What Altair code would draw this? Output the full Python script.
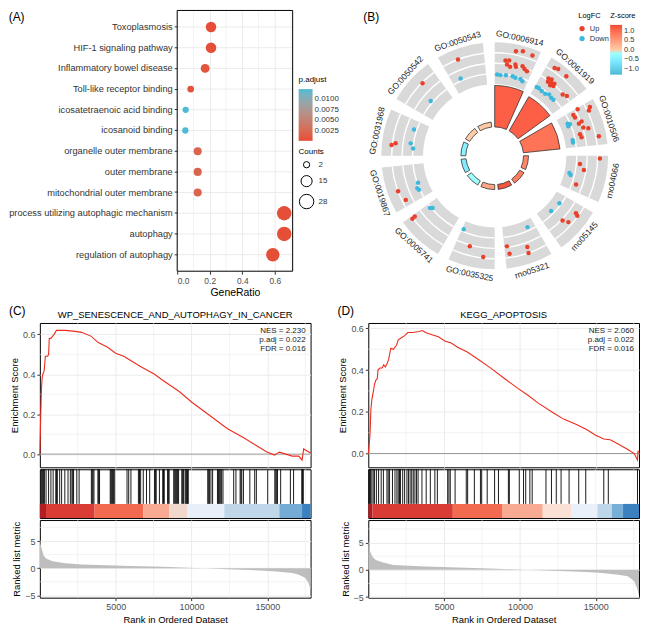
import math
import altair as alt
import pandas as pd

FONT = "Liberation Sans"
RED = "#E64B35"
BLUE = "#4DBBD5"

# ------------------------------------------------------------------ (A) data
a_terms = ["Toxoplasmosis", "HIF-1 signaling pathway", "Inflammatory bowel disease",
           "Toll-like receptor binding", "icosatetraenoic acid binding", "icosanoid binding",
           "organelle outer membrane", "outer membrane", "mitochondrial outer membrane",
           "process utilizing autophagic mechanism", "autophagy", "regulation of autophagy"]
a_ratio = [0.208, 0.208, 0.172, 0.083, 0.052, 0.050, 0.126, 0.126, 0.126, 0.658, 0.658, 0.588]
a_count = [13, 13, 8, 3, 2, 2, 6, 6, 6, 28, 28, 24]
a_padj = [0.0003, 0.0004, 0.0009, 0.0008, 0.0123, 0.0123, 0.0021, 0.0022, 0.0022, 0.0004, 0.0004, 0.0005]
a_minor_grid = [0.1, 0.3, 0.5, 0.7]

# ------------------------------------------------------------------ (B) data
b_terms = ["GO:0006914", "GO:0061919", "GO:0010506", "rno04066", "rno05145", "rno05321",
           "GO:0035325", "GO:0005741", "GO:0019867", "GO:0031968", "GO:0050542", "GO:0050543"]
b_bar = [10.4, 9.9, 9.25, 1.25, 1.25, 1.25, 1.25, 1.25, 1.25, 1.25, 1.25, 1.25]
b_z = [1.1, 1.1, 0.9, 0.7, 0.78, 1.2, 0.39, -0.13, -0.54, -0.43, 0.0, 0.03]
# gene points: term index, position across the segment (0-1), ring position (0-4), direction
pt_term = [0] * 19 + [1] * 19 + [2] * 17 + [3] * 6 + [4] * 6 + [5] * 5 + [6] * 3 + [7] * 4 + [8] * 5 + [9] * 5 + [10] * 2 + [11] * 2
pt_pos = [0.48, 0.63, 0.86, 0.27, 0.36, 0.32, 0.41, 0.53, 0.56, 0.72, 0.79, 0.87,
          0.07, 0.17, 0.33, 0.53, 0.62, 0.77, 0.85,
          0.18, 0.26, 0.50, 0.20, 0.28, 0.24, 0.32, 0.40, 0.34, 0.42, 0.75, 0.85,
          0.06, 0.14, 0.25, 0.38, 0.48, 0.59, 0.68,
          0.03, 0.11, 0.19, 0.35, 0.12, 0.18, 0.51, 0.57, 0.66, 0.75, 0.81, 0.38,
          0.26, 0.30, 0.34, 0.78, 0.85,
          0.06, 0.23, 0.38, 0.81, 0.54, 0.59,
          0.22, 0.25, 0.57, 0.50, 0.26, 0.60,
          0.93, 0.89, 0.43, 0.45, 0.22,
          0.64, 0.27, 0.95,
          0.94, 0.95, 0.88, 0.83,
          0.41, 0.15, 0.44, 0.30, 0.24,
          0.25, 0.30, 0.75, 0.35, 0.21,
          0.63, 0.44,
          0.38, 0.26]
pt_level = [3.34, 3.50, 3.39, 2.31, 2.36, 1.95, 1.78, 2.10, 1.89, 2.12, 1.93, 1.80,
            0.92, 0.88, 0.93, 0.95, 0.86, 0.90, 0.76,
            3.31, 3.43, 3.39, 2.15, 2.26, 1.86, 1.97, 2.10, 1.73, 1.86, 1.90, 2.10,
            0.86, 0.87, 0.80, 0.79, 0.99, 0.89, 0.91,
            2.24, 1.62, 1.65, 2.08, 3.38, 3.14, 2.04, 2.48, 1.56, 1.64, 3.28, 1.77,
            0.77, 0.95, 0.73, 0.75, 0.74,
            3.21, 1.34, 1.79, 1.40, 0.48, 0.64,
            2.67, 2.92, 2.12, 2.63, 0.82, 0.70,
            1.89, 2.62, 2.42, 2.99, 0.66,
            2.13, 2.89, 0.78,
            3.06, 2.75, 1.09, 0.91,
            2.99, 2.64, 0.92, 1.17, 1.09,
            3.07, 2.70, 1.26, 1.27, 0.98,
            2.93, 1.20,
            3.00, 1.23]
pt_dir = (["Up"] * 12 + ["Down"] * 7 + ["Up"] * 12 + ["Down"] * 7 + ["Up"] * 12 + ["Down"] * 5
          + ["Up"] * 4 + ["Down"] * 2 + ["Up"] * 4 + ["Down"] * 2 + ["Up"] * 4 + ["Down"]
          + ["Up"] * 2 + ["Down"] + ["Up"] * 2 + ["Down"] * 2 + ["Up"] * 2 + ["Down"] * 3
          + ["Up"] * 2 + ["Down"] * 3 + ["Up", "Down"] + ["Up", "Down"])
ring_lines = [1, 2, 3]

# ------------------------------------------------------------------ (C)/(D) data
N_GENES = 17850
c_title = "WP_SENESCENCE_AND_AUTOPHAGY_IN_CANCER"
c_stats = ["NES = 2.230", "p.adj = 0.022", "FDR = 0.016"]
c_es_rank = [1, 60, 109, 152, 194, 258, 301, 365, 515, 579, 622, 729, 835, 942, 1092, 1369, 1690, 2331,
             2758, 3399, 3826, 4467, 5001, 5535, 5963, 6604, 7565, 8099, 9168, 10023, 11091, 12373,
             13442, 14296, 14937, 15471, 15792, 16219, 16647, 17074, 17288, 17394, 17850]
c_es_val = [0, 0.2, 0.33, 0.38, 0.40, 0.41, 0.43, 0.49, 0.49, 0.50, 0.58, 0.58, 0.59, 0.60, 0.62, 0.62,
            0.62, 0.615, 0.61, 0.59, 0.56, 0.535, 0.505, 0.49, 0.47, 0.44, 0.40, 0.37, 0.315, 0.26,
            0.20, 0.127, 0.082, 0.042, 0.012, -0.005, 0.01, 0.0, -0.01, -0.01, -0.03, 0.026, 0.006]
c_hits = [90, 141, 192, 250, 301, 410, 577, 731, 878, 1051, 1103, 1154, 1308, 1436, 1647, 1859, 2013,
          2115, 2173, 2224, 2436, 2590, 3397, 3455, 3506, 3570, 3827, 3878, 3936, 4641, 4692, 4743,
          4801, 4852, 4936, 5750, 5859, 6006, 6500, 6571, 6647, 6820, 7032, 7243, 7564, 7621, 7673,
          7884, 8102, 8154, 8205, 8423, 8474, 8525, 8827, 8891, 8955, 9019, 9083, 9147, 9359, 9417,
          9468, 9577, 9628, 9679, 9737, 9788, 11070, 11134, 11179, 11282, 11391, 11711, 11775, 11839,
          11923, 11987, 12076, 12782, 12929, 13205, 13262, 13314, 13423, 13846, 14166, 14275, 15025,
          15493, 15557, 15621, 15666, 15878, 16519, 16730, 17269, 17320, 17371]
c_band_start = [1, 408, 3613, 6818, 8527, 9702, 12160, 15792, 17288]
c_band_col = ["#B01E23", "#D93B35", "#F26A4F", "#F8AB92", "#F1D7CC", "#E9EFF8", "#BFD7E9", "#74ACD6", "#3B80BF"]
c_met_rank = [1, 60, 152, 237, 408, 835, 1690, 2758, 3826, 5963, 8099, 10236, 11305, 12373, 14510,
              15578, 16647, 17074, 17501, 17715, 17850]
c_met_val = [5.5, 4.3, 3.3, 2.4, 1.8, 1.3, 0.9, 0.7, 0.6, 0.42, 0.25, 0.06, -0.06, -0.18, -0.42,
             -0.6, -0.9, -1.2, -1.8, -2.7, -3.9]

d_title = "KEGG_APOPTOSIS"
d_stats = ["NES = 2.060", "p.adj = 0.022", "FDR = 0.016"]
d_es_rank = [1, 110, 173, 237, 342, 406, 490, 596, 639, 766, 914, 1020, 1126, 1232, 1338, 1486, 1656,
             1867, 1973, 2185, 2397, 2609, 2926, 3350, 3561, 3773, 4197, 4620, 5044, 5467, 5891, 6526,
             7161, 8008, 9067, 9914, 10549, 11184, 12243, 12878, 13725, 14360, 14995, 15524, 15948,
             16477, 17112, 17535, 17747, 17789, 17850]
d_es_val = [0, 0.085, 0.21, 0.26, 0.30, 0.33, 0.35, 0.36, 0.40, 0.41, 0.41, 0.425, 0.415, 0.43, 0.45,
            0.505, 0.50, 0.52, 0.545, 0.555, 0.565, 0.58, 0.58, 0.585, 0.59, 0.58, 0.57, 0.56, 0.54,
            0.53, 0.51, 0.487, 0.456, 0.413, 0.355, 0.31, 0.278, 0.243, 0.193, 0.165, 0.139, 0.116,
            0.088, 0.07, 0.066, 0.046, 0.019, 0.0, -0.031, 0.011, 0.008]
d_hits = [40, 90, 152, 235, 324, 407, 534, 680, 851, 997, 1232, 1315, 1404, 1595, 1760, 1887, 1976,
          2058, 2122, 2268, 2395, 2548, 2649, 2757, 2865, 2967, 3075, 3183, 3284, 3539, 3818, 4091,
          4390, 4555, 5235, 5317, 5406, 5724, 6461, 6550, 6995, 7395, 7478, 7840, 8329, 8583, 9237,
          9301, 9955, 10235, 10381, 10654, 10806, 11715, 12077, 12395, 12712, 13240, 13875, 14339,
          15527, 15825, 17750]
d_band_start = [1, 279, 5574, 8856, 11503, 13409, 15103, 16056, 16797]
d_band_col = ["#B01E23", "#D93B35", "#F26A4F", "#F8AB92", "#FBE0D6", "#EAF0F9", "#BDD6EA", "#78AFD9", "#3B80BF"]
d_met_rank = [1, 60, 132, 279, 491, 914, 1656, 3774, 5891, 8009, 10126, 12244, 14361, 15420, 16479,
              17114, 17538, 17750, 17850]
d_met_val = [5.5, 4.3, 3.3, 2.4, 1.8, 1.4, 0.9, 0.6, 0.42, 0.24, 0.06, -0.18, -0.42, -0.6, -0.9,
             -1.2, -2.1, -3.6, -4.8]

x_minor = [2500, 7500, 12500, 17500]

# ================================================================== (A)
GRID = "#EBEBEB"
LAB_IN, A_PW, A_H = 138, 116, 262
A_XMAX = 0.71
dfA = pd.DataFrame({"term": a_terms, "GeneRatio": a_ratio, "Counts": a_count, "padj": a_padj})
xA_scale = alt.Scale(domain=[0, A_XMAX], range=[LAB_IN, LAB_IN + A_PW], nice=False, zero=False)
xA_axis = alt.Axis(values=[0, 0.2, 0.4, 0.6], format=".1f", title="GeneRatio", grid=True,
                   labelFontSize=8.5, titleFontSize=10.5, tickSize=3, labelPadding=2, titlePadding=3)
yA_scale = alt.Scale(padding=0.6)
yA_axis = alt.Axis(title=None, labelFontSize=9.3, labelColor="#333333", tickSize=3, grid=False,
                   labelPadding=2, offset=-LAB_IN)

hgridA = alt.Chart(pd.DataFrame({"term": a_terms})).transform_calculate(
    x0="0", x1=f"{A_XMAX}").mark_rule(color=GRID, strokeWidth=1).encode(
    y=alt.Y("term:N", sort=a_terms, scale=yA_scale, axis=yA_axis),
    x=alt.X("x0:Q", scale=xA_scale, axis=xA_axis), x2="x1:Q")
minorA = alt.Chart(pd.DataFrame({"GeneRatio": a_minor_grid})).mark_rule(
    color=GRID, strokeWidth=0.6).encode(x=alt.X("GeneRatio:Q", scale=xA_scale, axis=xA_axis))
pointsA = alt.Chart(dfA).mark_circle(opacity=1).encode(
    x=alt.X("GeneRatio:Q", scale=xA_scale, axis=xA_axis),
    y=alt.Y("term:N", sort=a_terms, scale=yA_scale, axis=yA_axis),
    size=alt.Size("Counts:Q", scale=alt.Scale(domain=[2, 28], range=[40, 210]),
                  legend=alt.Legend(title="Counts", orient="none", legendX=LAB_IN + A_PW + 6, legendY=138,
                                    direction="vertical", values=[2, 15, 28],
                                    symbolFillColor="white", symbolStrokeColor="black",
                                    symbolStrokeWidth=1, titleFontSize=8, labelFontSize=8, padding=0)),
    color=alt.Color("padj:Q",
                    scale=alt.Scale(domain=[0.00023, 0.0123], range=[RED, BLUE], interpolate="lab"),
                    legend=alt.Legend(title="p.adjust", orient="none", legendX=LAB_IN + A_PW + 6, legendY=66,
                                      direction="vertical", gradientLength=52, gradientThickness=14,
                                      values=[0.0025, 0.005, 0.0075, 0.01], format=".4f",
                                      titleFontSize=8, labelFontSize=8, padding=0)),
)
frameA = alt.Chart(pd.DataFrame({"k": [0]})).transform_calculate(
    x0="0", x1=f"{A_XMAX}").mark_rect(filled=False, color="black", strokeWidth=1).encode(
    x=alt.X("x0:Q", scale=xA_scale, axis=xA_axis), x2="x1:Q")
A = alt.layer(hgridA, minorA, pointsA, frameA).properties(
    width=LAB_IN + A_PW, height=A_H, view=alt.ViewBackground(stroke="transparent"),
    title=alt.TitleParams("(A)", anchor="start", frame="bounds", offset=-14, fontSize=12),
)

# ================================================================== (B)
SEG_STEP, SEG_SPAN = 30, 24
R_BASE, BAR_K = 29, 4.0
RING_IN, RING_K, RING_N = 72, 10.5, 4
R_LAB = 121
BW, BH = 290, 290
BCX = 154
bx = alt.Scale(domain=[-BCX, BW - BCX], nice=False, zero=False)
by = alt.Scale(domain=[-144, BH - 144], nice=False, zero=False)
rs = alt.Scale(type="linear", domain=[0, 150], range=[0, 150], nice=False, zero=True)
ts = alt.Scale(domain=[0, 360], range=[0, 2 * math.pi], nice=False, zero=False)

dfB = pd.DataFrame({"idx": list(range(len(b_terms))), "term": b_terms, "bar": b_bar, "z": b_z})
dfL = pd.DataFrame([(i, lv) for i in range(len(b_terms)) for lv in ring_lines], columns=["idx", "lv"])
dfP = pd.DataFrame({"idx": pt_term, "pos": pt_pos, "level": pt_level, "LogFC": pt_dir})


def arc_enc():
    return dict(
        x=alt.X("cx:Q", scale=bx, axis=None),
        y=alt.Y("cy:Q", scale=by, axis=None),
        theta=alt.Theta("t0:Q", scale=ts, stack=None), theta2="t1:Q",
        radius=alt.Radius("r0:Q", scale=rs), radius2="r1:Q",
    )


segB = alt.Chart(dfB).transform_calculate(
    t0=f"datum.idx*{SEG_STEP}", t1=f"datum.idx*{SEG_STEP}+{SEG_SPAN}",
    r0=f"{RING_IN}", r1=f"{RING_IN + RING_K * RING_N}", cx="0", cy="0",
).mark_arc(fill="#D9D9D9").encode(**arc_enc())

linesB = alt.Chart(dfL).transform_calculate(
    t0=f"datum.idx*{SEG_STEP}", t1=f"datum.idx*{SEG_STEP}+{SEG_SPAN}",
    r0=f"{RING_IN}+{RING_K}*datum.lv-0.7", r1=f"{RING_IN}+{RING_K}*datum.lv+0.7", cx="0", cy="0",
).mark_arc(fill="white").encode(**arc_enc())

ptsB = alt.Chart(dfP).transform_calculate(
    th=f"(datum.idx*{SEG_STEP}+datum.pos*{SEG_SPAN})*PI/180",
    r=f"{RING_IN}+{RING_K}*datum.level",
    px="datum.r*sin(datum.th)", py="datum.r*cos(datum.th)",
).mark_circle(size=20, opacity=1).encode(
    x=alt.X("px:Q", scale=bx, axis=None),
    y=alt.Y("py:Q", scale=by, axis=None),
    color=alt.Color("LogFC:N", scale=alt.Scale(domain=["Up", "Down"], range=["#E8402A", "#3DB8DD"]),
                    legend=alt.Legend(title="LogFC", orient="none", legendX=238, legendY=2,
                                      direction="vertical", symbolSize=28, titleFontSize=7.5,
                                      labelFontSize=7.5, padding=0, rowPadding=1)),
)

barsB = alt.Chart(dfB).transform_calculate(
    t0=f"datum.idx*{SEG_STEP}", t1=f"datum.idx*{SEG_STEP}+{SEG_SPAN}",
    r0=f"{R_BASE}", r1=f"{R_BASE}+{BAR_K}*datum.bar", cx="0", cy="0",
).mark_arc(stroke="#333333", strokeWidth=0.8).encode(
    fill=alt.Fill("z:Q", scale=alt.Scale(domain=[-1.3, 0, 1.3], range=[BLUE, "white", RED]),
                  legend=alt.Legend(title="Z-score", orient="none", legendX=270, legendY=2,
                                    direction="vertical", gradientLength=50, gradientThickness=12,
                                    values=[-1, -0.5, 0, 0.5, 1], format=".1f", titleFontSize=7.5,
                                    labelFontSize=7.5, padding=0)),
    **arc_enc(),
)

labsB = alt.Chart(dfB).transform_calculate(
    tm=f"datum.idx*{SEG_STEP}+{SEG_SPAN / 2}",
    lx=f"{R_LAB}*sin(datum.tm*PI/180)", ly=f"{R_LAB}*cos(datum.tm*PI/180)",
    a0="(datum.tm > 90 && datum.tm < 270) ? datum.tm - 180 : datum.tm",
    ang="(datum.a0 + 360) % 360",
).mark_text(fontSize=8.5, align="center", baseline="middle", color="#1a1a1a").encode(
    x=alt.X("lx:Q", scale=bx, axis=None),
    y=alt.Y("ly:Q", scale=by, axis=None),
    text="term:N",
    angle=alt.Angle("ang:Q", scale=None),
)

B = alt.layer(segB, linesB, ptsB, barsB, labsB).properties(
    width=BW, height=BH, view=alt.ViewBackground(stroke="transparent"),
    title=alt.TitleParams("(B)", anchor="start", frame="group", offset=-14, dx=22, fontSize=12),
).resolve_scale(color="independent", fill="independent")

# ================================================================== (C)/(D)
GW, H_TOP, H_MID, H_BOT = 272, 145, 49, 78
BAND_TOP = 0.29


def gsea(label, title, stats, es_rank, es_val, es_dom, hits, band_start, band_col,
         met_rank, met_val, met_dom):
    xs = alt.Scale(domain=[1, N_GENES], nice=False, zero=False)
    x_noax = alt.Axis(values=[5000, 10000, 15000], labels=False, ticks=False, title=None,
                      grid=True, domain=False)
    # ---- running enrichment score
    es_df = pd.DataFrame({"rank": es_rank, "ES": es_val})
    ys = alt.Scale(domain=es_dom, nice=False, zero=False)
    y_ax = alt.Axis(values=[0, 0.2, 0.4, 0.6], format=".1f", title="Enrichment Score", grid=True,
                    labelFontSize=9, titleFontSize=9.5, tickSize=3, labelPadding=2, titlePadding=3)
    gx = alt.Chart(pd.DataFrame({"rank": x_minor})).mark_rule(color=GRID, strokeWidth=0.6).encode(
        x=alt.X("rank:Q", scale=xs, axis=x_noax))
    gy = alt.Chart(pd.DataFrame({"ES": [0.1, 0.3, 0.5]})).mark_rule(color=GRID, strokeWidth=0.6).encode(
        y=alt.Y("ES:Q", scale=ys, axis=y_ax))
    zero = alt.Chart(pd.DataFrame({"ES": [0]})).mark_rule(color="#9A9A9A", strokeWidth=1).encode(
        y=alt.Y("ES:Q", scale=ys, axis=y_ax))
    line = alt.Chart(es_df).mark_line(color="#EE2C1E", strokeWidth=1.1).encode(
        x=alt.X("rank:Q", scale=xs, axis=x_noax), y=alt.Y("ES:Q", scale=ys, axis=y_ax))
    txt = alt.Chart(pd.DataFrame({"k": [0]})).mark_text(
        text=stats, align="right", baseline="top", fontSize=8, lineHeight=9, color="#1a1a1a"
    ).encode(x=alt.value(GW - 5), y=alt.value(4))
    top = alt.layer(gx, gy, zero, line, txt).properties(
        width=GW, height=H_TOP,
        title=alt.TitleParams(title, anchor="middle", fontSize=9.5, offset=3),
    )
    # ---- hits and ranking colour band
    ym = alt.Scale(domain=[0, 1], nice=False, zero=False)
    gmid = alt.Chart(pd.DataFrame({"rank": [2500, 5000, 7500, 10000, 12500, 15000, 17500]})).mark_rule(
        color=GRID, strokeWidth=0.6).encode(x=alt.X("rank:Q", scale=xs, axis=None))
    hit = alt.Chart(pd.DataFrame({"rank": hits})).transform_calculate(
        y0=f"{BAND_TOP}", y1="1").mark_rule(color="black", strokeWidth=0.9).encode(
        x=alt.X("rank:Q", scale=xs, axis=None),
        y=alt.Y("y0:Q", scale=ym, axis=None), y2="y1:Q")
    band_end = band_start[1:] + [N_GENES]
    band = alt.Chart(pd.DataFrame({"start": band_start, "end": band_end, "col": band_col})).transform_calculate(
        b0="0", b1=f"{BAND_TOP}").mark_rect().encode(
        x=alt.X("start:Q", scale=xs, axis=None), x2="end:Q",
        y=alt.Y("b0:Q", scale=ym, axis=None), y2="b1:Q",
        color=alt.Color("col:N", scale=None))
    mid = alt.layer(gmid, hit, band).properties(width=GW, height=H_MID)
    # ---- ranked list metric
    mdf = pd.DataFrame({"rank": met_rank, "metric": met_val})
    yb = alt.Scale(domain=met_dom, nice=False, zero=False)
    xb_ax = alt.Axis(values=[5000, 10000, 15000], format="d", title="Rank in Ordered Dataset",
                     grid=True, labelFontSize=9, titleFontSize=9.5, tickSize=3, labelPadding=2,
                     titlePadding=3)
    yb_ax = alt.Axis(values=[-5, 0, 5], title="Ranked list metric", grid=True, labelFontSize=9,
                     titleFontSize=9.5, tickSize=3, labelPadding=2, titlePadding=3)
    bgx = alt.Chart(pd.DataFrame({"rank": x_minor})).mark_rule(color=GRID, strokeWidth=0.6).encode(
        x=alt.X("rank:Q", scale=xs, axis=xb_ax))
    bgy = alt.Chart(pd.DataFrame({"metric": [-2.5, 2.5, 7.5]})).mark_rule(color=GRID, strokeWidth=0.6).encode(
        y=alt.Y("metric:Q", scale=yb, axis=yb_ax))
    area = alt.Chart(mdf).transform_calculate(base="0").mark_area(color="#BEBEBE").encode(
        x=alt.X("rank:Q", scale=xs, axis=xb_ax),
        y=alt.Y("metric:Q", scale=yb, axis=yb_ax), y2="base:Q")
    bot = alt.layer(bgx, bgy, area).properties(width=GW, height=H_BOT)
    return alt.vconcat(top, mid, bot, spacing=0).properties(
        title=alt.TitleParams(label, anchor="start", frame="bounds", offset=-8, fontSize=12))


C = gsea("(C)", c_title, c_stats, c_es_rank, c_es_val, [-0.066, 0.657], c_hits, c_band_start,
         c_band_col, c_met_rank, c_met_val, [-5.42, 8.86])
D = gsea("(D)", d_title, d_stats, d_es_rank, d_es_val, [-0.066, 0.626], d_hits, d_band_start,
         d_band_col, d_met_rank, d_met_val, [-5.12, 9.16])

row1 = alt.hconcat(A, B, spacing=0).resolve_scale(color="independent", size="independent", fill="independent")
row2 = alt.hconcat(C, D, spacing=23).resolve_scale(color="independent")
chart = alt.vconcat(row1, row2, spacing=4, padding=0).resolve_scale(
    color="independent", size="independent", fill="independent"
).configure(font=FONT).configure_view(stroke="black", strokeWidth=1).configure_axis(
    labelFont=FONT, titleFont=FONT, labelColor="#4D4D4D", titleColor="black", titleFontWeight="normal",
    tickColor="#333333", gridColor=GRID, domain=False,
).configure_legend(
    labelFont=FONT, titleFont=FONT, titleFontWeight="normal", labelColor="#333333", titleColor="black",
).configure_title(font=FONT, fontWeight="normal", color="black")

chart.save("out.html", embed_options={"renderer": "svg", "actions": False})
